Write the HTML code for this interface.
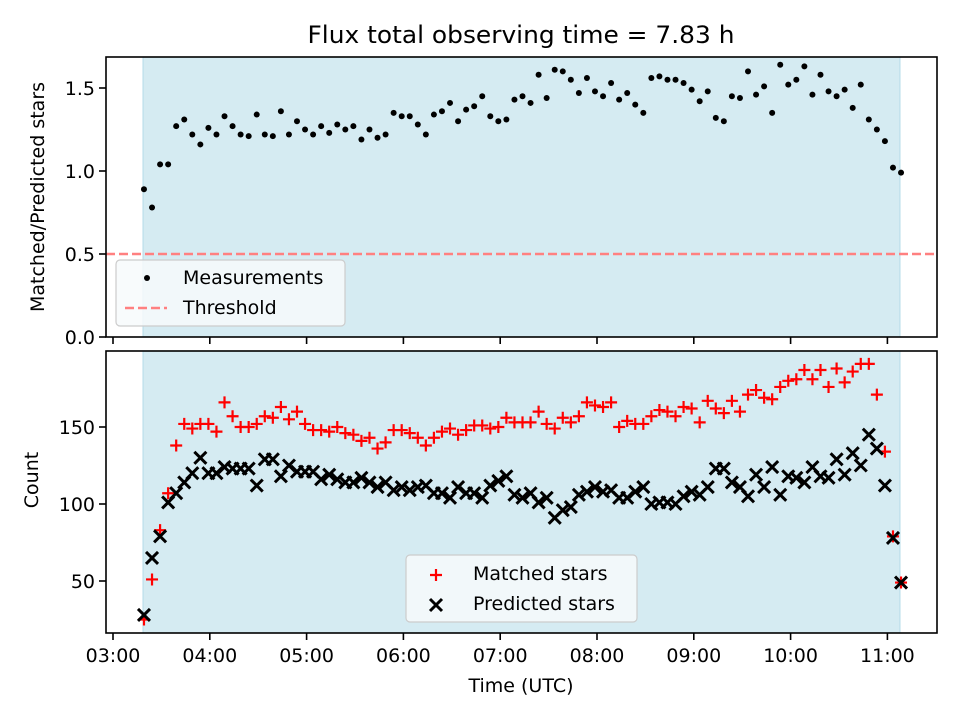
<!DOCTYPE html>
<html><head><meta charset="utf-8"><style>
html,body{margin:0;padding:0;background:#fff;}
svg{display:block;font-family:"DejaVu Sans","Liberation Sans",sans-serif;}
</style></head><body>
<svg id="chart" width="960" height="720" viewBox="0 0 960 720" xmlns="http://www.w3.org/2000/svg">
<rect width="960" height="720" fill="#fff"/>
<text x="521" y="43" font-size="24" text-anchor="middle" textLength="427" lengthAdjust="spacingAndGlyphs">Flux total observing time = 7.83 h</text>
<g id="topPanel"></g>
<g id="botPanel"></g>
<text transform="translate(44,197) rotate(-90)" font-size="19" text-anchor="middle">Matched/Predicted stars</text>
<text transform="translate(38,480) rotate(-90)" font-size="19" text-anchor="middle">Count</text>
<text x="521" y="692" font-size="19" text-anchor="middle">Time (UTC)</text>
</svg>
<script>
const ratioValues=[0.89,0.78,1.04,1.04,1.27,1.31,1.22,1.16,1.26,1.22,1.33,1.27,1.22,1.21,1.34,1.22,1.21,1.36,1.22,1.30,1.25,1.22,1.27,1.23,1.28,1.25,1.27,1.19,1.25,1.20,1.22,1.35,1.33,1.33,1.28,1.22,1.34,1.36,1.41,1.30,1.37,1.39,1.45,1.33,1.30,1.31,1.43,
1.45,1.41,1.58,1.44,1.61,1.60,1.55,1.47,1.56,1.48,1.45,1.53,1.43,1.47,1.40,1.35,1.56,1.57,1.55,1.55,1.53,1.49,1.42,1.48,1.32,1.30,1.45,1.44,1.60,1.46,1.51,1.35,1.64,1.52,1.55,1.63,1.46,1.58,1.48,1.45,1.49,1.38,1.52,1.31,1.25,1.18,1.02,0.99];
const matchedValues=[25,51,83,107,138,152,149,152,152,147,166,157,150,150,152,157,156,163,155,160,152,148,148,147,150,146,145,141,143,136,140,148,148,146,143,138,143,147,149,145,148,151,151,149,150,156,153,153,
153,160,152,149,156,153,157,166,164,163,166,150,154,152,152,157,161,160,157,163,162,153,167,162,159,167,160,171,174,169,168,176,180,181,187,181,187,176,188,179,186,191,191,171,134,79,49];
const predictedValues=[28,65,79,101,107,114,120,130,120,120,124,123,123,123,112,129,129,118,125,121,121,121,116,119,116,114,114,117,114,111,114,109,111,109,111,112,107,107,104,111,107,107,104,112,115,118,106,104,
107,101,104,91,96,98,106,108,111,108,109,104,104,108,111,100,101,101,100,105,108,106,111,123,123,114,111,105,119,111,124,106,118,117,114,124,118,117,129,119,133,125,145,136,112,78,49];
const startHour=3.32, stepHour=0.0832;
const spanStart=3.31, spanEnd=11.13;
const timeTicks=["03:00","04:00","05:00","06:00","07:00","08:00","09:00","10:00","11:00"];
const ratioTicks=[0.0,0.5,1.0,1.5];
const countTicks=[50,100,150];
const threshold=0.5;

const NS="http://www.w3.org/2000/svg";
const AX_L=106,AX_R=937;
const xs=h=>113+(h-3)*96.8;
const yTop=v=>337-v*166;
const yBot=v=>581-(v-50)*1.54;
function mk(parent,tag,attrs){const e=document.createElementNS(NS,tag);for(const k in attrs)e.setAttribute(k,attrs[k]);parent.appendChild(e);return e;}
const topG=document.getElementById('topPanel'), botG=document.getElementById('botPanel');

function spanRect(g,y0,y1,name){
  let s=mk(g,'rect',{x:xs(spanStart),y:y0,width:xs(spanEnd)-xs(spanStart),height:y1-y0,fill:'#d5ebf2',stroke:'#b5dbe8','stroke-width':1});
  
  
}
function frame(g,y0,y1,name,labels){
  let f=mk(g,'rect',{x:AX_L,y:y0,width:AX_R-AX_L,height:y1-y0,fill:'none',stroke:'#000','stroke-width':1.6});
  
  
  timeTicks.forEach((t,i)=>{
    const x=xs(3+i);
    let tk=mk(g,'line',{x1:x,x2:x,y1:y1,y2:y1+7,stroke:'#000','stroke-width':1.6});
    
    
    if(labels){
      let tx=mk(g,'text',{x:x,y:y1+29,'font-size':19,'text-anchor':'middle'});
      tx.textContent=t;
      
      
    }
  });
}
function yticks(g,ticks,fn,fmt,name){
  ticks.forEach(v=>{
    const y=fn(v);
    let tk=mk(g,'line',{x1:AX_L-7,x2:AX_L,y1:y,y2:y,stroke:'#000','stroke-width':1.6});
    
    
    let tx=mk(g,'text',{x:AX_L-11,y:y+7,'font-size':19,'text-anchor':'end'});
    tx.textContent=fmt(v);
    
    
  });
}
function plus(g,x,y,c,s){return mk(g,'path',{d:`M${x-s} ${y}H${x+s}M${x} ${y-s}V${y+s}`,stroke:c,'stroke-width':2.2,fill:'none'});}
function cross(g,x,y,s){return mk(g,'path',{d:`M${x-s} ${y-s}L${x+s} ${y+s}M${x-s} ${y+s}L${x+s} ${y-s}`,stroke:'#000','stroke-width':3,fill:'none'});}

// top panel
spanRect(topG,57,337,'top');
let th=mk(topG,'line',{x1:AX_L,x2:AX_R,y1:yTop(threshold),y2:yTop(threshold),stroke:'#ff8080','stroke-width':2.4,'stroke-dasharray':'9,4'});


ratioValues.forEach((v,i)=>{
  let c=mk(topG,'circle',{cx:xs(startHour+i*stepHour),cy:yTop(v),r:3,fill:'#000'});
  
  
});
let lg=mk(topG,'g',{});


mk(lg,'rect',{x:116,y:260,width:229,height:66,rx:4,fill:'#f7fafc',stroke:'#cccccc','stroke-width':1.2,'fill-opacity':0.85});
mk(lg,'circle',{cx:147,cy:278,r:3,fill:'#000'});
mk(lg,'line',{x1:125,x2:167,y1:308,y2:308,stroke:'#ff8080','stroke-width':2.4,'stroke-dasharray':'9,4'});
let t1=mk(lg,'text',{x:183,y:284,'font-size':19});t1.textContent='Measurements';


let t2=mk(lg,'text',{x:183,y:314,'font-size':19});t2.textContent='Threshold';


frame(topG,57,337,'top',false);
yticks(topG,ratioTicks,yTop,v=>v.toFixed(1),'top');

// bottom panel
spanRect(botG,351,633,'bottom');
matchedValues.forEach((v,i)=>{
  let p=plus(botG,xs(startHour+i*stepHour),yBot(v),'#ff0000',6);
  
  
});
predictedValues.forEach((v,i)=>{
  let p=cross(botG,xs(startHour+i*stepHour),yBot(v),6);
  
  
});
let lg2=mk(botG,'g',{});


mk(lg2,'rect',{x:406,y:555,width:231,height:67,rx:4,fill:'#f7fafc',stroke:'#cccccc','stroke-width':1.2,'fill-opacity':0.85});
plus(lg2,436,575,'#ff0000',6);
cross(lg2,436,605,6);
let t3=mk(lg2,'text',{x:473,y:580,'font-size':19});t3.textContent='Matched stars';


let t4=mk(lg2,'text',{x:473,y:610,'font-size':19});t4.textContent='Predicted stars';


frame(botG,351,633,'bottom',true);
yticks(botG,countTicks,yBot,v=>String(v),'bottom');
</script>
</body></html>
